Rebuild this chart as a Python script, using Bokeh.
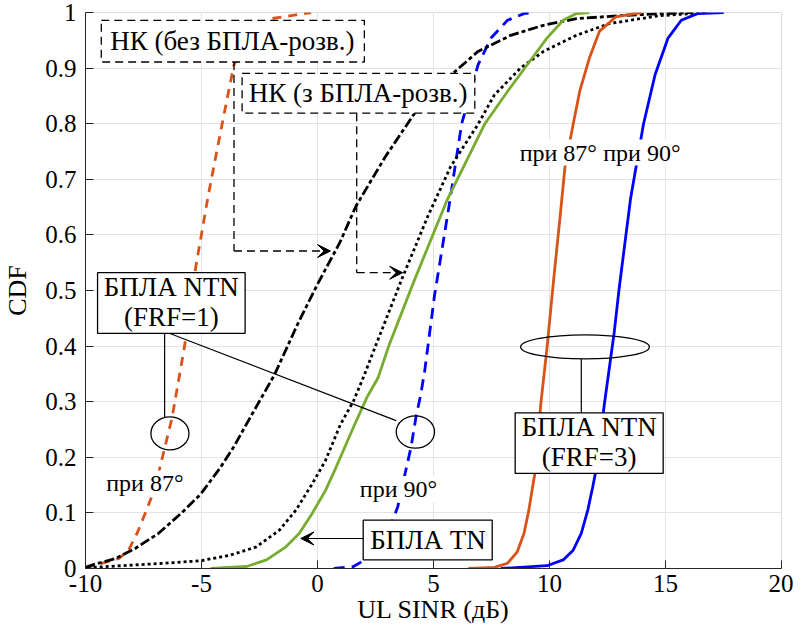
from bokeh.plotting import figure
from bokeh.models import Range1d, FixedTicker, Arrow, VeeHead
from bokeh.core.properties import value
from bokeh.embed import file_html
from bokeh.resources import INLINE

# ---------------- data ----------------
x_ticks = [-10, -5, 0, 5, 10, 15, 20]
x_tick_labels = ["-10", "-5", "0", "5", "10", "15", "20"]
y_ticks = [0, 0.1, 0.2, 0.3, 0.4, 0.5, 0.6, 0.7, 0.8, 0.9, 1]
y_tick_labels = ["0", "0.1", "0.2", "0.3", "0.4", "0.5", "0.6", "0.7", "0.8", "0.9", "1"]

# NTN FRF=1, 87 deg (orange dashed)
ntn1_87_x = [-10.0, -9.84, -9.27, -8.56, -8.14, -7.78, -7.43, -7.15, -6.86, -6.65, -6.44, -6.27, -5.73, -5.24,
             -4.73, -4.45, -4.17, -3.89, -3.60, -2.97, -1.98, -0.28]
ntn1_87_y = [0.001, 0.003, 0.0095, 0.018, 0.033, 0.063, 0.099, 0.129, 0.170, 0.206, 0.242, 0.271, 0.40, 0.544,
             0.666, 0.727, 0.787, 0.846, 0.906, 0.959, 0.989, 1.0]
# NTN FRF=1, 90 deg (blue dashed)
ntn1_90_x = [0.70, 1.55, 2.26, 2.97, 3.46, 3.74, 4.03, 4.24, 4.45, 4.62, 5.04, 5.67, 6.21, 6.92, 7.48, 8.19, 8.90, 9.32]
ntn1_90_y = [0.0, 0.0036, 0.021, 0.057, 0.111, 0.164, 0.218, 0.271, 0.313, 0.355, 0.49, 0.652, 0.799, 0.906, 0.954,
             0.986, 0.998, 1.0]
# TN without UAV reports (black dash-dot)
nk_no_x = [-10.0, -9.69, -8.70, -7.86, -6.86, -5.88, -5.03, -4.18, -3.62, -2.91, -1.86, -0.85, -0.03, 0.96, 1.66,
           2.93, 4.19, 5.93, 6.92, 8.33, 9.74, 11.16, 13.28, 16.1]
nk_no_y = [0.002, 0.0066, 0.018, 0.036, 0.063, 0.099, 0.134, 0.182, 0.218, 0.271, 0.348, 0.44, 0.509, 0.586, 0.652,
           0.741, 0.819, 0.894, 0.93, 0.959, 0.977, 0.989, 0.995, 1.0]
# TN with UAV reports (black dotted)
nk_with_x = [-9.9, -9.69, -6.58, -5.03, -3.76, -2.63, -1.64, -0.93, -0.23, 0.34, 0.99, 1.55, 1.97, 2.50, 3.63, 4.76,
             5.74, 6.92, 7.63, 8.75, 9.74, 11.16, 12.57, 14.69, 16.8]
nk_with_y = [0.0, 0.002, 0.0095, 0.014, 0.024, 0.039, 0.069, 0.105, 0.152, 0.194, 0.259, 0.301, 0.343, 0.40, 0.52,
             0.634, 0.723, 0.799, 0.852, 0.9, 0.93, 0.959, 0.98, 0.994, 1.0]
# UAV TN (green)
tn_x = [-4.61, -3.05, -2.20, -1.36, -0.79, -0.23, 0.34, 0.80, 1.55, 2.12, 2.61, 3.07, 4.19, 5.60, 7.2, 8.19, 9.04,
        9.89, 10.59, 11.16, 11.72]
tn_y = [0.0, 0.0036, 0.0155, 0.039, 0.063, 0.099, 0.14, 0.182, 0.254, 0.307, 0.343, 0.40, 0.52, 0.664, 0.799, 0.858,
        0.906, 0.954, 0.986, 0.998, 1.0]
# NTN FRF=3, 87 deg (orange solid)
ntn3_87_x = [6.5, 7.63, 8.19, 8.61, 8.90, 9.11, 9.25, 9.39, 9.62, 9.90, 10.18, 10.45, 10.67, 11.02, 11.3, 11.72,
             12.15, 12.85, 13.98]
ntn3_87_y = [0.0, 0.002, 0.0095, 0.03, 0.063, 0.105, 0.141, 0.176, 0.294, 0.40, 0.52, 0.63, 0.723, 0.799, 0.858,
             0.918, 0.966, 0.992, 1.0]
# NTN FRF=3, 90 deg (blue solid)
ntn3_90_x = [7.9, 9.89, 10.59, 11.02, 11.37, 11.65, 11.86, 12.0, 12.36, 12.79, 13.0, 13.49, 14.05, 14.55, 15.11,
             15.68, 16.38, 17.51]
ntn3_90_y = [0.0, 0.005, 0.0155, 0.033, 0.063, 0.105, 0.146, 0.176, 0.294, 0.425, 0.503, 0.664, 0.799, 0.888, 0.954,
             0.986, 0.998, 1.0]

# annotation boxes: left, right, bottom, top (data units)
solid_boxes = [[-9.48, -3.12, 0.423, 0.532],
               [8.52, 14.90, 0.171, 0.280],
               [1.97, 7.53, 0.0155, 0.087]]
dashed_boxes = [[-9.32, 2.02, 0.911, 0.986],
                [-3.25, 6.78, 0.819, 0.8905]]
box_texts = ["НК (без БПЛА-розв.)", "НК (з БПЛА-розв.)", "БПЛА NTN", "(FRF=1)", "БПЛА NTN", "(FRF=3)", "БПЛА TN"]
box_text_x = [-3.67, 1.75, -6.30, -6.30, 11.71, 11.71, 4.76]
box_text_y = [0.949, 0.855, 0.507, 0.452, 0.255, 0.200, 0.052]

angle_texts = ["при 87°", "при 90°", "при 87°", "при 90°"]
angle_text_x = [10.38, 13.98, -7.44, 3.49]
angle_text_y = [0.748, 0.748, 0.153, 0.143]

# ellipses: x, y, width, height
ell_x = [-6.36, 4.22, 11.53]
ell_y = [0.243, 0.2455, 0.3986]
ell_w = [1.64, 1.65, 5.55]
ell_h = [0.0595, 0.058, 0.0434]

# leader lines (solid)
lead_xs = [[-6.59, -6.59], [-6.39, 3.39], [11.37, 11.37]]
lead_ys = [[0.423, 0.271], [0.423, 0.266], [0.377, 0.280]]
# dashed leaders with arrows: vertical part, then arrow
dl_x = [-3.60, 1.69]
dl_y_top = [0.911, 0.819]
dl_y_bot = [0.571, 0.532]
dl_x_tip = [0.56, 3.67]
# TN arrow: start x, tip x, y
tn_arrow = [1.97, -0.72, 0.054]

FONT = "Liberation Serif"

p = figure(width=793, height=626, output_backend="svg", toolbar_location=None,
           x_range=Range1d(-10, 20), y_range=Range1d(0, 1),
           min_border=0, min_border_left=84, min_border_right=12, min_border_top=12)
p.background_fill_color = "white"
p.border_fill_color = "white"
p.outline_line_color = "#dcdcdc"

p.xaxis.ticker = FixedTicker(ticks=x_ticks)
p.yaxis.ticker = FixedTicker(ticks=y_ticks)
p.xaxis.major_label_overrides = {t: l for t, l in zip(x_ticks, x_tick_labels)}
p.yaxis.major_label_overrides = {t: l for t, l in zip(y_ticks, y_tick_labels)}
for ax in (p.xaxis, p.yaxis):
    ax.major_tick_in = 8
    ax.major_tick_out = 0
    ax.minor_tick_in = 0
    ax.minor_tick_out = 0
    ax.axis_line_color = "#262626"
    ax.major_tick_line_color = "#262626"
    ax.major_label_text_font = FONT
    ax.major_label_text_font_size = "25px"
    ax.major_label_text_color = "black"
    ax.axis_label_text_font = FONT
    ax.axis_label_text_font_size = "26px"
    ax.axis_label_text_font_style = "normal"
    ax.axis_label_text_color = "black"
p.xaxis.axis_label = "UL SINR (дБ)"
p.yaxis.axis_label = "CDF"
p.xaxis.major_label_standoff = 6
p.xaxis.axis_label_standoff = 0
p.yaxis.major_label_standoff = 9
p.yaxis.axis_label_standoff = 10
p.grid.grid_line_color = "#e3e3e3"
p.grid.grid_line_width = 1

LW = 2.8
p.line(ntn1_87_x, ntn1_87_y, line_color="#D95319", line_width=LW, line_dash="9 7")
p.line(ntn1_90_x, ntn1_90_y, line_color="#0000FF", line_width=LW, line_dash="11 7")
p.line(nk_no_x, nk_no_y, line_color="black", line_width=LW, line_dash="10 3 4 3")
p.line(nk_with_x, nk_with_y, line_color="black", line_width=LW, line_dash="3 3")
p.line(tn_x, tn_y, line_color="#77AC30", line_width=LW)
p.line(ntn3_87_x, ntn3_87_y, line_color="#D95319", line_width=LW)
p.line(ntn3_90_x, ntn3_90_y, line_color="#0000FF", line_width=LW)

# leaders
p.multi_line(lead_xs, lead_ys, line_color="black", line_width=1.2)
for i in range(len(dl_x)):
    p.line([dl_x[i], dl_x[i]], [dl_y_top[i], dl_y_bot[i]], line_color="black", line_width=1.3, line_dash="8 5")
    p.add_layout(Arrow(end=VeeHead(size=13, fill_color="black", line_color="black"),
                       x_start=dl_x[i], y_start=dl_y_bot[i], x_end=dl_x_tip[i], y_end=dl_y_bot[i],
                       line_color="black", line_width=1.3, line_dash="8 5"))
p.add_layout(Arrow(end=VeeHead(size=13, fill_color="black", line_color="black"),
                   x_start=tn_arrow[0], y_start=tn_arrow[2], x_end=tn_arrow[1], y_end=tn_arrow[2],
                   line_color="black", line_width=1.2))

p.ellipse(ell_x, ell_y, width=ell_w, height=ell_h, fill_color=None, line_color="black", line_width=1.3)

p.quad(left=[b[0] for b in solid_boxes], right=[b[1] for b in solid_boxes],
       bottom=[b[2] for b in solid_boxes], top=[b[3] for b in solid_boxes],
       fill_color="white", line_color="black", line_width=1.3)
p.quad(left=[b[0] for b in dashed_boxes], right=[b[1] for b in dashed_boxes],
       bottom=[b[2] for b in dashed_boxes], top=[b[3] for b in dashed_boxes],
       fill_color="white", line_color="black", line_width=1.3, line_dash="8 5")

p.text(x=box_text_x, y=box_text_y, text=box_texts, text_align="center", text_baseline="middle",
       text_font=value(FONT), text_font_size="27px", text_color="black")
p.text(x=angle_text_x, y=angle_text_y, text=angle_texts, text_align="center", text_baseline="middle",
       text_font=value(FONT), text_font_size="24px", text_color="black",
       background_fill_color="white")

open("out.html", "w").write(file_html(p, INLINE))
